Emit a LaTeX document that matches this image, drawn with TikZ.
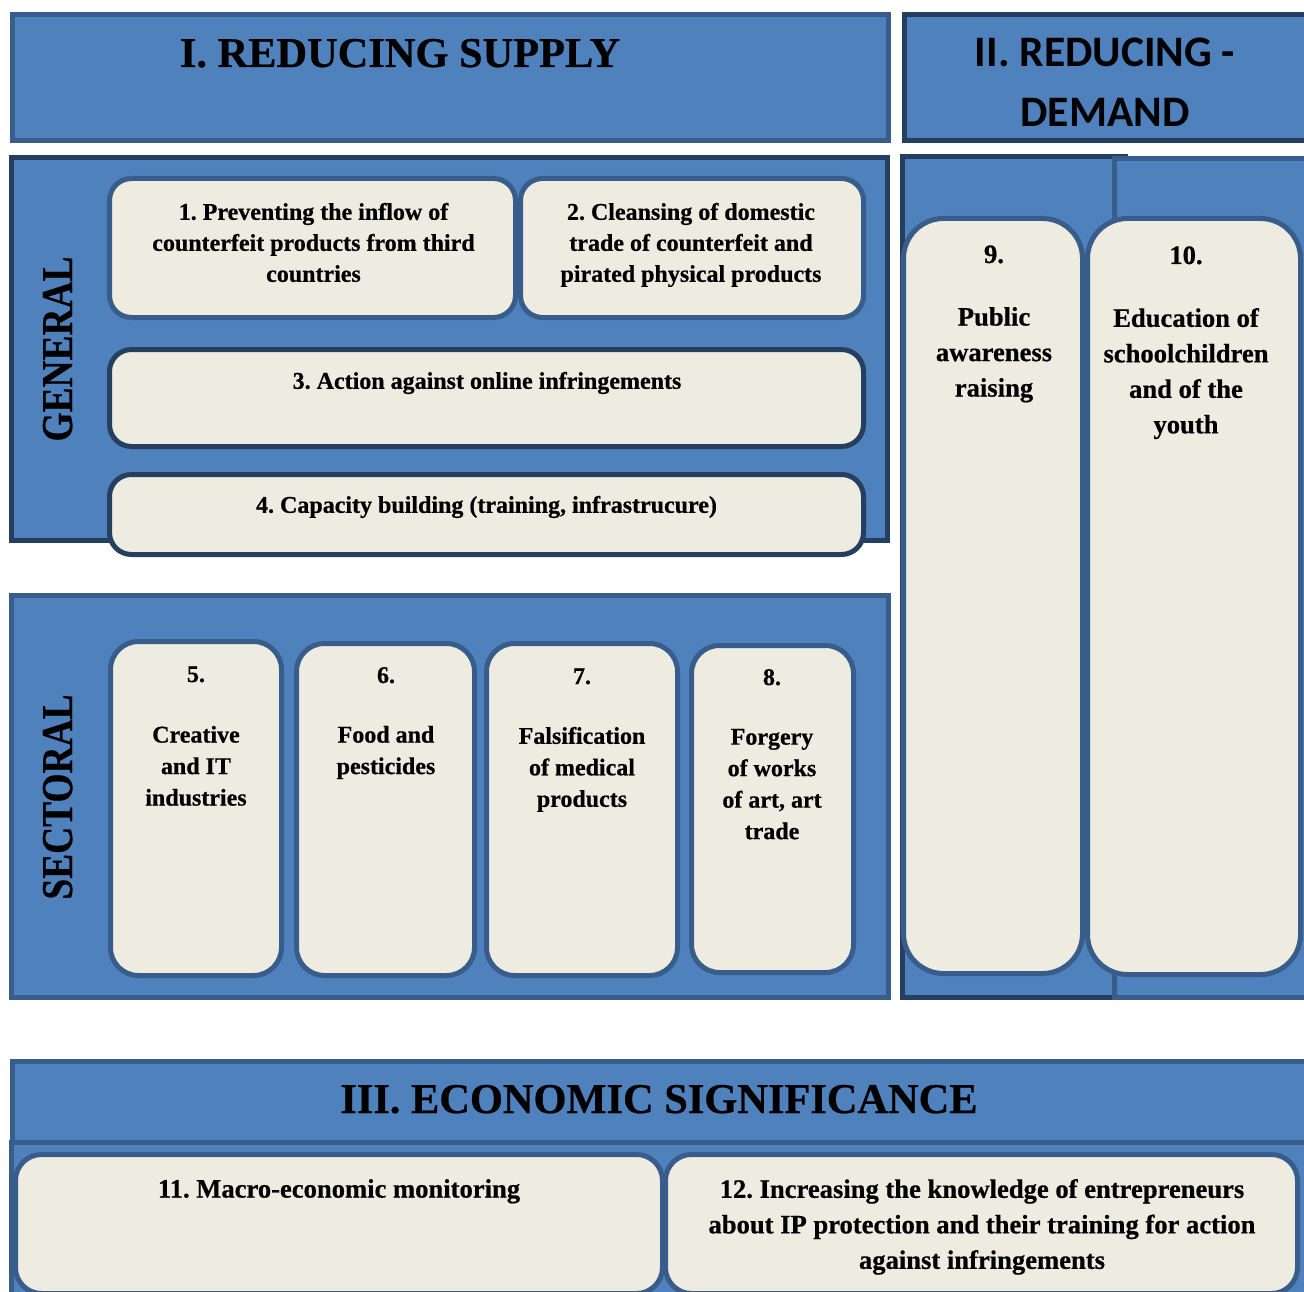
\documentclass[tikz,border=0pt]{standalone}
\usepackage{fontspec}
\setmainfont{Liberation Serif}
\newfontfamily\serfont[BoldFeatures={FakeBold=0.6}]{Liberation Serif}
\newfontfamily\calfont{Carlito}
\definecolor{pfill}{HTML}{4F81BD}
\definecolor{bordL}{HTML}{385D8A}
\definecolor{bordD}{HTML}{243F60}
\definecolor{cream}{HTML}{EEECE1}
\newcommand\myfs[2]{\fontsize{#1}{#2}\selectfont}
\begin{document}
\frenchspacing
\begin{tikzpicture}[x=1pt,y=-1pt,
 panel/.style={fill=pfill,draw=bordL,line width=5pt},
 panelD/.style={panel,draw=bordD},
 card/.style={fill=cream,draw=bordL,line width=5pt,rounded corners=22pt},
 cardD/.style={card,draw=bordD},
 tall/.style={card,rounded corners=28pt},
 big/.style={card,rounded corners=40pt},
 txt/.style={inner sep=0pt,align=center,anchor=north,font=\serfont\bfseries\frenchspacing\myfs{24}{31}},
 txtS/.style={txt,font=\serfont\bfseries\frenchspacing\myfs{24}{31.5}},
 num/.style={inner sep=0pt,anchor=base,font=\serfont\bfseries\myfs{24}{30}},
 txtL/.style={txt,font=\serfont\bfseries\frenchspacing\myfs{26.6}{35.5}},
 numL/.style={num,font=\serfont\bfseries\myfs{26.6}{35.5}},
 head/.style={inner sep=0pt,anchor=base,font=\serfont\bfseries\myfs{42.4}{50}},
 side/.style={inner sep=0pt,anchor=base,rotate=90,font=\serfont\bfseries\myfs{44}{50}},
]
\useasboundingbox (0,0) rectangle (1304,1292);
\clip (0,0) rectangle (1304,1292);

% headers and panels
\draw[panel] (12.5,14.5) rectangle (888.5,140.5);
\draw[panelD] (904.5,14.5) rectangle (1312,140.5);
\draw[panelD] (11.5,157.5) rectangle (887.5,540.5);
\draw[panel] (11.5,595.5) rectangle (888.5,997.5);
\draw[panelD] (902.5,156.5) rectangle (1125.5,997.5);
\draw[panel] (1114.5,158.5) rectangle (1312,997.5);
\draw[panel] (11.5,1142.5) rectangle (1312,1310);
\draw[panel] (12.5,1061.5) rectangle (1312,1142.5);

% general boxes
\draw[card] (109.5,178.5) rectangle (515.5,317.5);
\draw[card] (520.5,178.5) rectangle (863.5,317.5);
\draw[cardD] (109.5,349.5) rectangle (863.5,446.5);
\draw[cardD] (109.5,474.5) rectangle (863.5,554.5);

% sectoral boxes
\draw[tall] (110.5,641.5) rectangle (281.5,975.5);
\draw[tall] (296.5,643.5) rectangle (474.5,975.5);
\draw[tall] (486.5,643.5) rectangle (677.5,975.5);
\draw[tall] (691.5,645.5) rectangle (853.5,972.5);

% demand boxes
\draw[big] (903.5,218.5) rectangle (1082.5,973.5);
\draw[big] (1087.5,218.5) rectangle (1300.5,974.5);

% economic boxes
\draw[card,rounded corners=26pt] (15.5,1154.5) rectangle (662.5,1293.5);
\draw[card,rounded corners=26pt] (665.5,1154.5) rectangle (1297.5,1293.5);

% texts
\node[head] (h1) at (400,67) {I. REDUCING SUPPLY};
\node[head,font=\calfont\bfseries\myfs{43.5}{50}] (h2a) at (1105,67) {II. REDUCING -};
\node[head,font=\calfont\bfseries\myfs{43.5}{50}] (h2b) at (1105,127) {DEMAND};
\node[head] (h3) at (659,1113) {III. ECONOMIC SIGNIFICANCE};
\node[side] (gen) at (72,349) {\scalebox{0.85}[1]{GENERAL}};
\node[side] (sec) at (72,797) {\scalebox{0.85}[1]{SECTORAL}};

\node[txt] (t1) at (313.5,202.7) {1. Preventing the inflow of\\counterfeit products from third\\countries};
\node[txt] (t2) at (691,202.7) {2. Cleansing of domestic\\trade of counterfeit and\\pirated physical products};
\node[txt] (t3) at (487,371.7) {3. Action against online infringements};
\node[txt] (t4) at (486.5,495.7) {4. Capacity building (training, infrastrucure)};

\node[num] (n5) at (196,682) {5.};
\node[txtS] (t5) at (196,725.7) {Creative\\and IT\\industries};
\node[num] (n6) at (386,683) {6.};
\node[txtS] (t6) at (386,725.7) {Food and\\pesticides};
\node[num] (n7) at (582,684) {7.};
\node[txtS] (t7) at (582,726.7) {Falsification\\of medical\\products};
\node[num] (n8) at (772,685) {8.};
\node[txtS] (t8) at (772,728.7) {Forgery\\of works\\of art, art\\trade};

\node[numL] (n9) at (994,263) {9.};
\node[txtL] (t9) at (994,306.9) {Public\\awareness\\raising};
\node[numL] (n10) at (1186,264) {10.};
\node[txtL] (t10) at (1186,307.9) {Education of\\schoolchildren\\and of the\\youth};

\node[txtL] (t11) at (339,1178.9) {11. Macro-economic monitoring};
\node[txtL] (t12) at (982,1178.9) {12. Increasing the knowledge of entrepreneurs\\about IP protection and their training for action\\against infringements};
\end{tikzpicture}
\end{document}
